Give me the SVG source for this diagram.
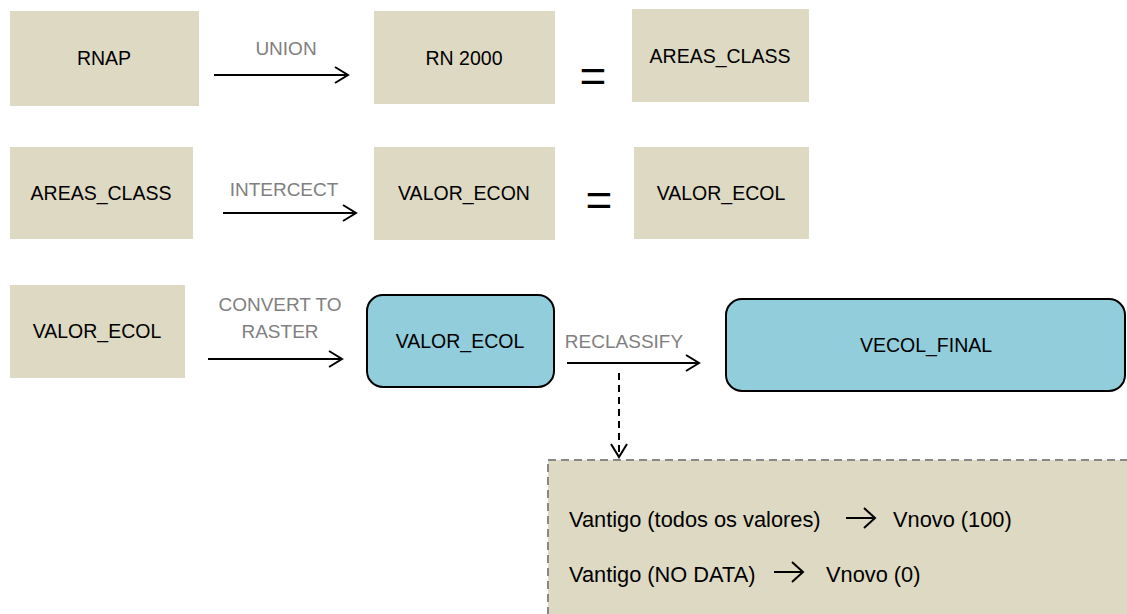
<svg xmlns="http://www.w3.org/2000/svg" width="1127" height="614" viewBox="0 0 1127 614">
<style>
.box{fill:#DDD9C3}
.rbox{fill:#92CDDC;stroke:#000;stroke-width:2}
.t{font-family:"Liberation Sans",Arial,sans-serif;font-size:19.5px;fill:#000;text-anchor:middle}
.lbl{font-family:"Liberation Sans",Arial,sans-serif;font-size:19px;fill:#808080;text-anchor:middle}
.eq{font-family:"Liberation Sans",Arial,sans-serif;font-size:46px;fill:#000;text-anchor:middle}
.ln{stroke:#000;stroke-width:2;fill:none}
.dash{stroke:#000;stroke-width:2;fill:none;stroke-dasharray:7,5}
.bt{font-family:"Liberation Sans",Arial,sans-serif;font-size:21.8px;fill:#000}
</style>
<defs>
<marker id="ah" markerWidth="16" markerHeight="18" refX="14" refY="9" orient="auto" markerUnits="userSpaceOnUse">
<path d="M1,1 L14,9 L1,17" fill="none" stroke="#000" stroke-width="2"/>
</marker>
</defs>
<rect width="1127" height="614" fill="#fff"/>
<g id="n-rnap"><rect class="box" x="10" y="11" width="189" height="95"/><text class="t" x="104" y="65">RNAP</text></g>
<g id="n-rn2000"><rect class="box" x="374" y="11" width="181" height="93"/><text class="t" x="464" y="65">RN 2000</text></g>
<g id="eq1"><text class="eq" x="593" y="92">=</text></g>
<g id="n-areas1"><rect class="box" x="632" y="9" width="177" height="93"/><text class="t" x="720" y="63">AREAS_CLASS</text></g>
<g id="n-areas2"><rect class="box" x="10" y="147" width="183" height="92"/><text class="t" x="101" y="200">AREAS_CLASS</text></g>
<g id="n-valecon"><rect class="box" x="374" y="147" width="181" height="93"/><text class="t" x="464" y="200">VALOR_ECON</text></g>
<g id="eq2"><text class="eq" x="599" y="216">=</text></g>
<g id="n-valecol1"><rect class="box" x="634" y="147" width="175" height="92"/><text class="t" x="721" y="200">VALOR_ECOL</text></g>
<g id="n-valecol2"><rect class="box" x="10" y="285" width="175" height="93"/><text class="t" x="97" y="338">VALOR_ECOL</text></g>
<g id="n-valecol3"><rect class="rbox" x="367" y="295" width="187" height="92" rx="16"/><text class="t" x="460" y="348">VALOR_ECOL</text></g>
<g id="n-vecol"><rect class="rbox" x="726" y="299" width="399" height="92" rx="16"/><text class="t" x="926" y="352">VECOL_FINAL</text></g>
<g id="n-reclass">
<rect x="548" y="460" width="590" height="170" fill="#DDD9C3" stroke="#888" stroke-width="2" stroke-dasharray="8,5"/>
<text class="bt" x="569" y="527">Vantigo (todos os valores)</text>
<path class="ln" d="M846,518 L874,518 M864,508 L875,518 L864,528"/>
<text class="bt" x="893" y="527">Vnovo (100)</text>
<text class="bt" x="569" y="582">Vantigo (NO DATA)</text>
<path class="ln" d="M774,572 L802,572 M792,562 L803,572 L792,582"/>
<text class="bt" x="826" y="582">Vnovo (0)</text>
</g>
<g id="connectors">
<line class="ln" x1="214" y1="75" x2="348" y2="75" marker-end="url(#ah)"/>
<text class="lbl" x="286" y="55">UNION</text>
<line class="ln" x1="223" y1="213" x2="356" y2="213" marker-end="url(#ah)"/>
<text class="lbl" x="284" y="196">INTERCECT</text>
<line class="ln" x1="208" y1="359" x2="342" y2="359" marker-end="url(#ah)"/>
<text class="lbl" x="280" y="311">CONVERT TO</text>
<text class="lbl" x="280" y="338">RASTER</text>
<line class="ln" x1="567" y1="363" x2="699" y2="363" marker-end="url(#ah)"/>
<text class="lbl" x="624" y="348">RECLASSIFY</text>
<line class="dash" x1="619" y1="373" x2="619" y2="457" marker-end="url(#ah)"/>
</g>
</svg>
